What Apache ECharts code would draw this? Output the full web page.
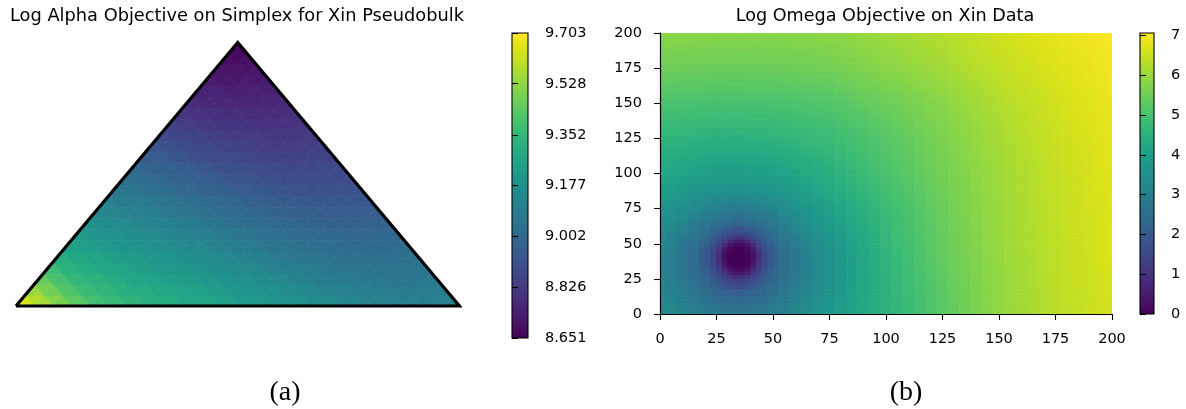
<!DOCTYPE html>
<html>
<head>
<meta charset="utf-8">
<script src="https://cdn.jsdelivr.net/npm/echarts@6/dist/echarts.min.js"></script>
<style>
  html, body { margin: 0; padding: 0; background: #fff; }
  #chart { width: 1186px; height: 409px; }
</style>
</head>
<body>
<div id="chart"></div>
<script>
// viridis colour stops (20 evenly spaced)
const VIRIDIS = ['#440154', '#481567', '#482677', '#453781', '#3f4788', '#39558c', '#32648e', '#2d718e',
  '#287d8e', '#238a8d', '#1f968b', '#20a386', '#29af7f', '#3cbc75', '#56c667', '#75d054',
  '#95d840', '#bade28', '#dde318', '#fde725'];

// ---- (a) log alpha objective on the simplex ----
// rows of sub-triangles from the base (row 0) to the apex; items alternate
// upward / downward triangles from left to right
const alphaRange = [8.651, 9.703];
const alphaTickLabels = ['8.651', '8.826', '9.002', '9.177', '9.352', '9.528', '9.703'];
const alphaSteps = 24;
const alphaRows = [
  [9.64, 9.58, 9.56, 9.51, 9.49, 9.44, 9.43, 9.39, 9.38, 9.36, 9.36, 9.33, 9.33, 9.31, 9.31, 9.30, 9.30, 9.28, 9.28, 9.26, 9.27, 9.25, 9.25, 9.23, 9.23, 9.21, 9.21, 9.19, 9.19, 9.18, 9.18, 9.16, 9.16, 9.14, 9.14, 9.13, 9.13, 9.11, 9.12, 9.11, 9.11, 9.10, 9.11, 9.10, 9.11, 9.11, 9.11],
  [9.54, 9.49, 9.47, 9.42, 9.41, 9.37, 9.36, 9.34, 9.34, 9.32, 9.31, 9.29, 9.30, 9.28, 9.28, 9.26, 9.26, 9.25, 9.25, 9.23, 9.23, 9.21, 9.21, 9.19, 9.19, 9.18, 9.18, 9.16, 9.16, 9.14, 9.14, 9.12, 9.12, 9.11, 9.11, 9.10, 9.10, 9.09, 9.09, 9.08, 9.09, 9.08, 9.09, 9.09, 9.09],
  [9.45, 9.40, 9.39, 9.35, 9.34, 9.32, 9.32, 9.30, 9.30, 9.27, 9.28, 9.26, 9.26, 9.24, 9.24, 9.23, 9.23, 9.21, 9.21, 9.19, 9.19, 9.17, 9.18, 9.16, 9.16, 9.14, 9.14, 9.12, 9.12, 9.10, 9.10, 9.09, 9.09, 9.08, 9.08, 9.07, 9.07, 9.06, 9.07, 9.06, 9.07, 9.07, 9.07],
  [9.37, 9.33, 9.32, 9.30, 9.30, 9.28, 9.28, 9.26, 9.26, 9.24, 9.24, 9.22, 9.22, 9.21, 9.21, 9.19, 9.19, 9.17, 9.17, 9.16, 9.16, 9.14, 9.14, 9.12, 9.12, 9.10, 9.10, 9.08, 9.09, 9.07, 9.07, 9.06, 9.06, 9.05, 9.06, 9.05, 9.05, 9.05, 9.05, 9.05, 9.06],
  [9.31, 9.28, 9.28, 9.26, 9.26, 9.24, 9.24, 9.22, 9.22, 9.20, 9.21, 9.19, 9.19, 9.17, 9.17, 9.15, 9.15, 9.14, 9.14, 9.12, 9.12, 9.10, 9.10, 9.08, 9.08, 9.06, 9.07, 9.05, 9.05, 9.04, 9.04, 9.03, 9.04, 9.03, 9.03, 9.03, 9.03, 9.03, 9.04],
  [9.26, 9.24, 9.24, 9.22, 9.22, 9.20, 9.20, 9.18, 9.19, 9.17, 9.17, 9.15, 9.15, 9.13, 9.14, 9.12, 9.12, 9.10, 9.10, 9.08, 9.08, 9.06, 9.06, 9.05, 9.05, 9.03, 9.03, 9.02, 9.02, 9.01, 9.02, 9.01, 9.01, 9.01, 9.01, 9.01, 9.02],
  [9.22, 9.20, 9.20, 9.18, 9.18, 9.17, 9.17, 9.15, 9.15, 9.13, 9.13, 9.12, 9.12, 9.10, 9.10, 9.08, 9.08, 9.06, 9.06, 9.04, 9.04, 9.03, 9.03, 9.01, 9.01, 9.00, 9.00, 8.99, 9.00, 8.99, 8.99, 8.99, 9.00, 8.99, 9.00],
  [9.18, 9.16, 9.16, 9.15, 9.15, 9.13, 9.13, 9.11, 9.12, 9.10, 9.10, 9.08, 9.08, 9.06, 9.06, 9.04, 9.04, 9.02, 9.02, 9.01, 9.01, 8.99, 9.00, 8.98, 8.98, 8.97, 8.98, 8.97, 8.97, 8.97, 8.98, 8.97, 8.98],
  [9.14, 9.13, 9.13, 9.11, 9.11, 9.10, 9.10, 9.08, 9.08, 9.06, 9.06, 9.04, 9.04, 9.02, 9.02, 9.00, 9.00, 8.99, 8.99, 8.97, 8.98, 8.96, 8.97, 8.96, 8.96, 8.95, 8.95, 8.95, 8.96, 8.95, 8.96],
  [9.11, 9.09, 9.09, 9.08, 9.08, 9.06, 9.06, 9.04, 9.04, 9.02, 9.02, 9.00, 9.00, 8.99, 8.99, 8.97, 8.97, 8.96, 8.96, 8.94, 8.95, 8.94, 8.94, 8.93, 8.94, 8.93, 8.94, 8.93, 8.94],
  [9.07, 9.06, 9.06, 9.04, 9.04, 9.02, 9.02, 9.00, 9.00, 8.98, 8.98, 8.97, 8.97, 8.95, 8.95, 8.94, 8.94, 8.92, 8.93, 8.92, 8.92, 8.91, 8.92, 8.91, 8.92, 8.91, 8.92],
  [9.04, 9.02, 9.02, 9.00, 9.00, 8.98, 8.98, 8.97, 8.97, 8.95, 8.95, 8.93, 8.93, 8.92, 8.92, 8.90, 8.91, 8.90, 8.90, 8.89, 8.90, 8.89, 8.90, 8.89, 8.90],
  [9.00, 8.98, 8.98, 8.97, 8.97, 8.95, 8.95, 8.93, 8.93, 8.91, 8.91, 8.90, 8.90, 8.89, 8.89, 8.88, 8.88, 8.87, 8.88, 8.87, 8.88, 8.88, 8.88],
  [8.96, 8.95, 8.95, 8.93, 8.93, 8.91, 8.91, 8.89, 8.89, 8.88, 8.88, 8.87, 8.87, 8.86, 8.86, 8.85, 8.86, 8.85, 8.86, 8.86, 8.86],
  [8.93, 8.91, 8.91, 8.89, 8.89, 8.87, 8.88, 8.86, 8.86, 8.85, 8.85, 8.84, 8.84, 8.83, 8.84, 8.83, 8.84, 8.84, 8.85],
  [8.89, 8.87, 8.87, 8.85, 8.86, 8.84, 8.84, 8.83, 8.83, 8.82, 8.83, 8.82, 8.82, 8.82, 8.82, 8.82, 8.83],
  [8.85, 8.83, 8.84, 8.82, 8.82, 8.81, 8.81, 8.80, 8.81, 8.80, 8.80, 8.80, 8.80, 8.80, 8.81],
  [8.82, 8.80, 8.80, 8.79, 8.79, 8.78, 8.79, 8.78, 8.78, 8.78, 8.78, 8.78, 8.79],
  [8.78, 8.77, 8.77, 8.76, 8.77, 8.76, 8.76, 8.76, 8.77, 8.76, 8.77],
  [8.75, 8.75, 8.75, 8.74, 8.74, 8.74, 8.75, 8.74, 8.75],
  [8.73, 8.72, 8.72, 8.72, 8.73, 8.72, 8.73],
  [8.71, 8.70, 8.71, 8.70, 8.71],
  [8.69, 8.68, 8.69],
  [8.67]
];

// ---- (b) log omega objective ----
const omegaRange = [0, 7.06];
const omegaBarTicks = [0, 1, 2, 3, 4, 5, 6, 7];
const omegaAxisTicks = [0, 25, 50, 75, 100, 125, 150, 175, 200];
const omegaCell = 5;
const omegaX = [0, 5, 10, 15, 20, 25, 30, 35, 40, 45, 50, 55, 60, 65, 70, 75, 80, 85, 90, 95, 100,
  105, 110, 115, 120, 125, 130, 135, 140, 145, 150, 155, 160, 165, 170, 175, 180, 185, 190, 195, 200];
const omegaY = [200, 195, 190, 185, 180, 175, 170, 165, 160, 155, 150, 145, 140, 135, 130, 125, 120, 115, 110, 105, 100,
  95, 90, 85, 80, 75, 70, 65, 60, 55, 50, 45, 40, 35, 30, 25, 20, 15, 10, 5, 0];
const omegaGrid = [
  [5.85, 5.84, 5.83, 5.82, 5.81, 5.80, 5.80, 5.79, 5.79, 5.79, 5.80, 5.80, 5.82, 5.83, 5.85, 5.85, 5.89, 5.93, 5.98, 6.02, 6.06, 6.10, 6.15, 6.20, 6.25, 6.28, 6.34, 6.39, 6.45, 6.51, 6.55, 6.60, 6.65, 6.70, 6.76, 6.81, 6.86, 6.90, 6.95, 6.99, 7.02],
  [5.78, 5.77, 5.76, 5.75, 5.74, 5.73, 5.73, 5.72, 5.72, 5.72, 5.73, 5.73, 5.75, 5.76, 5.78, 5.79, 5.83, 5.87, 5.92, 5.96, 6.01, 6.05, 6.10, 6.15, 6.20, 6.24, 6.30, 6.35, 6.41, 6.47, 6.52, 6.57, 6.62, 6.67, 6.73, 6.78, 6.83, 6.87, 6.92, 6.96, 7.00],
  [5.71, 5.70, 5.69, 5.68, 5.67, 5.66, 5.66, 5.66, 5.66, 5.66, 5.67, 5.67, 5.69, 5.70, 5.72, 5.73, 5.78, 5.82, 5.87, 5.91, 5.96, 6.01, 6.06, 6.11, 6.16, 6.20, 6.26, 6.32, 6.38, 6.44, 6.49, 6.55, 6.60, 6.65, 6.71, 6.76, 6.81, 6.85, 6.90, 6.94, 6.98],
  [5.64, 5.63, 5.62, 5.61, 5.60, 5.59, 5.59, 5.59, 5.59, 5.59, 5.60, 5.60, 5.62, 5.63, 5.65, 5.67, 5.72, 5.76, 5.81, 5.85, 5.91, 5.96, 6.01, 6.06, 6.11, 6.16, 6.22, 6.28, 6.34, 6.40, 6.46, 6.52, 6.57, 6.62, 6.68, 6.73, 6.78, 6.82, 6.87, 6.91, 6.96],
  [5.57, 5.56, 5.55, 5.54, 5.53, 5.52, 5.52, 5.52, 5.52, 5.52, 5.53, 5.54, 5.56, 5.57, 5.59, 5.61, 5.66, 5.71, 5.76, 5.80, 5.86, 5.91, 5.97, 6.02, 6.07, 6.12, 6.19, 6.25, 6.31, 6.37, 6.43, 6.49, 6.55, 6.60, 6.66, 6.71, 6.76, 6.80, 6.85, 6.89, 6.94],
  [5.50, 5.49, 5.48, 5.47, 5.46, 5.45, 5.45, 5.45, 5.45, 5.45, 5.46, 5.47, 5.49, 5.51, 5.53, 5.55, 5.60, 5.65, 5.70, 5.75, 5.81, 5.86, 5.92, 5.97, 6.03, 6.08, 6.15, 6.21, 6.28, 6.34, 6.40, 6.46, 6.52, 6.57, 6.63, 6.68, 6.73, 6.78, 6.83, 6.87, 6.92],
  [5.41, 5.40, 5.39, 5.38, 5.37, 5.36, 5.36, 5.36, 5.37, 5.37, 5.38, 5.39, 5.41, 5.43, 5.45, 5.47, 5.53, 5.58, 5.63, 5.68, 5.74, 5.79, 5.86, 5.91, 5.97, 6.03, 6.10, 6.16, 6.24, 6.30, 6.37, 6.43, 6.49, 6.54, 6.60, 6.66, 6.71, 6.76, 6.81, 6.86, 6.91],
  [5.32, 5.31, 5.30, 5.29, 5.28, 5.27, 5.27, 5.27, 5.28, 5.28, 5.29, 5.30, 5.33, 5.35, 5.37, 5.39, 5.45, 5.50, 5.56, 5.61, 5.67, 5.72, 5.79, 5.85, 5.91, 5.97, 6.04, 6.11, 6.19, 6.26, 6.33, 6.39, 6.45, 6.51, 6.57, 6.63, 6.69, 6.74, 6.79, 6.84, 6.89],
  [5.23, 5.22, 5.21, 5.20, 5.19, 5.18, 5.19, 5.19, 5.20, 5.20, 5.21, 5.22, 5.25, 5.27, 5.29, 5.31, 5.37, 5.43, 5.49, 5.54, 5.60, 5.66, 5.73, 5.79, 5.85, 5.92, 5.99, 6.07, 6.15, 6.22, 6.29, 6.36, 6.42, 6.48, 6.55, 6.61, 6.67, 6.72, 6.77, 6.83, 6.88],
  [5.14, 5.13, 5.12, 5.11, 5.10, 5.09, 5.10, 5.10, 5.11, 5.11, 5.12, 5.13, 5.16, 5.18, 5.21, 5.23, 5.29, 5.35, 5.41, 5.46, 5.53, 5.59, 5.66, 5.72, 5.79, 5.86, 5.94, 6.02, 6.10, 6.18, 6.25, 6.32, 6.39, 6.45, 6.52, 6.58, 6.64, 6.69, 6.75, 6.81, 6.87],
  [5.05, 5.04, 5.03, 5.02, 5.01, 5.00, 5.01, 5.01, 5.02, 5.02, 5.03, 5.05, 5.08, 5.10, 5.13, 5.16, 5.22, 5.28, 5.35, 5.40, 5.47, 5.53, 5.61, 5.67, 5.75, 5.82, 5.90, 5.98, 6.07, 6.15, 6.23, 6.30, 6.37, 6.43, 6.50, 6.56, 6.62, 6.68, 6.74, 6.80, 6.86],
  [4.96, 4.95, 4.94, 4.93, 4.92, 4.90, 4.91, 4.91, 4.92, 4.92, 4.94, 4.96, 4.99, 5.02, 5.05, 5.08, 5.15, 5.21, 5.28, 5.34, 5.41, 5.47, 5.55, 5.62, 5.70, 5.77, 5.86, 5.94, 6.03, 6.12, 6.20, 6.27, 6.34, 6.40, 6.47, 6.54, 6.60, 6.66, 6.72, 6.78, 6.84],
  [4.88, 4.87, 4.85, 4.84, 4.82, 4.80, 4.81, 4.82, 4.83, 4.83, 4.85, 4.87, 4.91, 4.94, 4.98, 5.01, 5.08, 5.15, 5.22, 5.29, 5.36, 5.43, 5.51, 5.59, 5.67, 5.74, 5.83, 5.92, 6.01, 6.10, 6.18, 6.25, 6.32, 6.39, 6.46, 6.53, 6.59, 6.65, 6.71, 6.77, 6.83],
  [4.80, 4.78, 4.76, 4.74, 4.72, 4.70, 4.71, 4.72, 4.73, 4.73, 4.76, 4.78, 4.82, 4.86, 4.90, 4.94, 5.01, 5.08, 5.16, 5.23, 5.31, 5.38, 5.47, 5.55, 5.63, 5.71, 5.80, 5.89, 5.98, 6.07, 6.15, 6.23, 6.30, 6.37, 6.44, 6.51, 6.57, 6.63, 6.69, 6.75, 6.81],
  [4.72, 4.69, 4.67, 4.65, 4.63, 4.60, 4.61, 4.62, 4.63, 4.64, 4.67, 4.69, 4.74, 4.78, 4.83, 4.87, 4.95, 5.02, 5.10, 5.18, 5.26, 5.34, 5.43, 5.51, 5.60, 5.68, 5.78, 5.87, 5.96, 6.05, 6.13, 6.21, 6.29, 6.36, 6.43, 6.50, 6.56, 6.62, 6.68, 6.74, 6.80],
  [4.63, 4.60, 4.58, 4.55, 4.53, 4.50, 4.51, 4.52, 4.53, 4.54, 4.57, 4.60, 4.65, 4.70, 4.75, 4.80, 4.88, 4.96, 5.04, 5.12, 5.21, 5.29, 5.38, 5.47, 5.56, 5.65, 5.75, 5.84, 5.94, 6.03, 6.11, 6.19, 6.27, 6.34, 6.41, 6.48, 6.54, 6.60, 6.66, 6.72, 6.78],
  [4.55, 4.51, 4.49, 4.45, 4.43, 4.39, 4.40, 4.41, 4.42, 4.43, 4.47, 4.50, 4.56, 4.62, 4.68, 4.73, 4.82, 4.91, 5.00, 5.08, 5.18, 5.26, 5.36, 5.45, 5.54, 5.63, 5.73, 5.82, 5.92, 6.02, 6.10, 6.18, 6.26, 6.33, 6.40, 6.47, 6.53, 6.59, 6.65, 6.71, 6.77],
  [4.46, 4.42, 4.39, 4.35, 4.32, 4.28, 4.29, 4.30, 4.31, 4.32, 4.36, 4.40, 4.47, 4.53, 4.60, 4.66, 4.76, 4.85, 4.95, 5.04, 5.14, 5.23, 5.33, 5.42, 5.52, 5.61, 5.71, 5.80, 5.90, 6.00, 6.08, 6.16, 6.24, 6.31, 6.39, 6.46, 6.52, 6.58, 6.64, 6.70, 6.76],
  [4.38, 4.33, 4.30, 4.25, 4.21, 4.16, 4.17, 4.17, 4.19, 4.20, 4.25, 4.30, 4.38, 4.45, 4.52, 4.59, 4.70, 4.80, 4.91, 5.01, 5.11, 5.21, 5.31, 5.40, 5.50, 5.59, 5.69, 5.79, 5.89, 5.99, 6.07, 6.15, 6.23, 6.30, 6.38, 6.45, 6.51, 6.57, 6.64, 6.70, 6.76],
  [4.29, 4.24, 4.20, 4.15, 4.09, 4.03, 4.04, 4.04, 4.06, 4.07, 4.13, 4.19, 4.28, 4.36, 4.44, 4.52, 4.63, 4.74, 4.86, 4.97, 5.08, 5.18, 5.28, 5.37, 5.47, 5.57, 5.67, 5.77, 5.87, 5.97, 6.05, 6.13, 6.21, 6.28, 6.36, 6.43, 6.50, 6.56, 6.63, 6.69, 6.76],
  [4.20, 4.15, 4.10, 4.04, 3.99, 3.94, 3.94, 3.94, 3.96, 3.97, 4.03, 4.08, 4.17, 4.26, 4.35, 4.44, 4.56, 4.68, 4.81, 4.92, 5.04, 5.15, 5.25, 5.35, 5.45, 5.55, 5.65, 5.75, 5.86, 5.96, 6.04, 6.12, 6.20, 6.27, 6.35, 6.42, 6.49, 6.55, 6.62, 6.68, 6.75],
  [4.11, 4.05, 3.99, 3.93, 3.89, 3.84, 3.84, 3.83, 3.85, 3.87, 3.92, 3.97, 4.06, 4.15, 4.26, 4.36, 4.49, 4.62, 4.75, 4.87, 4.99, 5.11, 5.22, 5.32, 5.43, 5.53, 5.63, 5.73, 5.84, 5.94, 6.03, 6.11, 6.19, 6.26, 6.34, 6.41, 6.48, 6.54, 6.61, 6.67, 6.74],
  [4.03, 3.95, 3.87, 3.78, 3.71, 3.64, 3.63, 3.62, 3.65, 3.68, 3.76, 3.83, 3.95, 4.06, 4.18, 4.29, 4.42, 4.55, 4.69, 4.82, 4.94, 5.07, 5.18, 5.29, 5.40, 5.51, 5.62, 5.72, 5.83, 5.93, 6.02, 6.11, 6.19, 6.26, 6.34, 6.41, 6.48, 6.54, 6.61, 6.67, 6.73],
  [3.95, 3.85, 3.74, 3.62, 3.53, 3.43, 3.42, 3.40, 3.45, 3.49, 3.59, 3.68, 3.83, 3.97, 4.10, 4.22, 4.35, 4.47, 4.62, 4.76, 4.89, 5.02, 5.14, 5.25, 5.37, 5.49, 5.60, 5.70, 5.81, 5.91, 6.01, 6.10, 6.18, 6.25, 6.33, 6.40, 6.47, 6.53, 6.60, 6.66, 6.72],
  [3.84, 3.73, 3.61, 3.48, 3.36, 3.24, 3.20, 3.15, 3.23, 3.30, 3.42, 3.53, 3.69, 3.85, 3.98, 4.11, 4.26, 4.40, 4.55, 4.70, 4.84, 4.98, 5.10, 5.22, 5.35, 5.47, 5.58, 5.69, 5.80, 5.90, 6.00, 6.09, 6.17, 6.24, 6.32, 6.39, 6.46, 6.52, 6.59, 6.65, 6.71],
  [3.72, 3.60, 3.47, 3.33, 3.19, 3.05, 2.98, 2.90, 3.00, 3.10, 3.24, 3.38, 3.55, 3.72, 3.86, 4.00, 4.16, 4.32, 4.48, 4.64, 4.79, 4.93, 5.06, 5.19, 5.32, 5.45, 5.56, 5.67, 5.78, 5.89, 5.99, 6.08, 6.16, 6.23, 6.31, 6.38, 6.45, 6.51, 6.58, 6.64, 6.70],
  [3.63, 3.49, 3.33, 3.17, 3.00, 2.83, 2.72, 2.60, 2.73, 2.85, 3.04, 3.23, 3.42, 3.61, 3.78, 3.94, 4.10, 4.26, 4.43, 4.60, 4.76, 4.91, 5.04, 5.17, 5.31, 5.44, 5.55, 5.66, 5.78, 5.89, 5.99, 6.08, 6.16, 6.23, 6.31, 6.38, 6.45, 6.51, 6.58, 6.64, 6.70],
  [3.53, 3.37, 3.19, 3.00, 2.80, 2.60, 2.45, 2.30, 2.45, 2.60, 2.84, 3.08, 3.29, 3.50, 3.69, 3.87, 4.04, 4.20, 4.38, 4.56, 4.72, 4.88, 5.02, 5.15, 5.29, 5.42, 5.54, 5.65, 5.77, 5.88, 5.98, 6.07, 6.15, 6.22, 6.30, 6.37, 6.44, 6.50, 6.57, 6.63, 6.70],
  [3.43, 3.26, 3.06, 2.84, 2.64, 2.28, 2.03, 1.80, 2.03, 2.30, 2.70, 2.93, 3.17, 3.40, 3.60, 3.79, 3.97, 4.14, 4.33, 4.52, 4.69, 4.86, 5.00, 5.13, 5.27, 5.41, 5.53, 5.64, 5.76, 5.88, 5.98, 6.07, 6.15, 6.22, 6.30, 6.37, 6.44, 6.50, 6.57, 6.63, 6.70],
  [3.33, 3.15, 2.92, 2.68, 2.48, 1.95, 1.60, 1.18, 1.60, 2.00, 2.55, 2.78, 3.04, 3.30, 3.50, 3.70, 3.89, 4.08, 4.28, 4.48, 4.66, 4.83, 4.97, 5.11, 5.25, 5.39, 5.51, 5.63, 5.75, 5.87, 5.97, 6.06, 6.14, 6.21, 6.29, 6.36, 6.43, 6.49, 6.56, 6.62, 6.69],
  [3.27, 3.09, 2.83, 2.57, 2.29, 1.66, 1.15, 0.60, 1.15, 1.71, 2.36, 2.66, 2.94, 3.21, 3.43, 3.64, 3.84, 4.04, 4.25, 4.45, 4.63, 4.81, 4.95, 5.10, 5.24, 5.38, 5.50, 5.62, 5.74, 5.86, 5.96, 6.06, 6.14, 6.21, 6.29, 6.36, 6.42, 6.48, 6.55, 6.62, 6.69],
  [3.20, 3.02, 2.74, 2.45, 2.14, 1.36, 0.70, 0.03, 0.70, 1.41, 2.21, 2.53, 2.83, 3.12, 3.35, 3.57, 3.79, 4.00, 4.21, 4.42, 4.60, 4.78, 4.93, 5.08, 5.23, 5.37, 5.49, 5.61, 5.73, 5.85, 5.95, 6.05, 6.13, 6.20, 6.28, 6.35, 6.41, 6.47, 6.54, 6.61, 6.68],
  [3.18, 3.01, 2.73, 2.44, 2.03, 1.33, 0.68, 0.03, 0.69, 1.38, 2.10, 2.50, 2.80, 3.09, 3.32, 3.54, 3.76, 3.98, 4.19, 4.41, 4.59, 4.76, 4.91, 5.06, 5.21, 5.35, 5.48, 5.60, 5.72, 5.84, 5.94, 6.04, 6.12, 6.19, 6.27, 6.35, 6.41, 6.47, 6.54, 6.60, 6.67],
  [3.15, 3.00, 2.71, 2.42, 2.08, 1.30, 0.66, 0.02, 0.68, 1.35, 2.15, 2.47, 2.77, 3.06, 3.29, 3.51, 3.73, 3.95, 4.17, 4.39, 4.57, 4.74, 4.89, 5.04, 5.19, 5.33, 5.46, 5.58, 5.70, 5.82, 5.93, 6.03, 6.11, 6.18, 6.26, 6.34, 6.40, 6.46, 6.53, 6.59, 6.66],
  [3.18, 3.00, 2.75, 2.49, 2.17, 1.55, 1.05, 0.54, 1.07, 1.60, 2.24, 2.54, 2.82, 3.09, 3.32, 3.55, 3.76, 3.97, 4.17, 4.38, 4.55, 4.72, 4.87, 5.02, 5.17, 5.32, 5.45, 5.57, 5.69, 5.81, 5.92, 6.02, 6.10, 6.18, 6.26, 6.34, 6.40, 6.46, 6.53, 6.59, 6.66],
  [3.20, 3.00, 2.78, 2.55, 2.30, 1.80, 1.43, 1.06, 1.46, 1.85, 2.37, 2.60, 2.86, 3.12, 3.35, 3.58, 3.78, 3.98, 4.17, 4.36, 4.53, 4.70, 4.85, 5.00, 5.15, 5.30, 5.43, 5.55, 5.68, 5.80, 5.91, 6.01, 6.09, 6.17, 6.25, 6.33, 6.39, 6.45, 6.52, 6.58, 6.65],
  [3.23, 3.05, 2.86, 2.65, 2.40, 2.10, 1.80, 1.62, 1.83, 2.15, 2.47, 2.69, 2.93, 3.17, 3.40, 3.62, 3.81, 4.00, 4.18, 4.36, 4.53, 4.69, 4.84, 4.99, 5.14, 5.29, 5.42, 5.54, 5.67, 5.80, 5.91, 6.01, 6.09, 6.17, 6.25, 6.33, 6.39, 6.45, 6.52, 6.58, 6.65],
  [3.25, 3.10, 2.93, 2.75, 2.50, 2.25, 2.17, 2.05, 2.20, 2.30, 2.54, 2.78, 3.00, 3.22, 3.44, 3.65, 3.84, 4.02, 4.19, 4.36, 4.52, 4.68, 4.83, 4.98, 5.13, 5.28, 5.41, 5.53, 5.66, 5.79, 5.90, 6.00, 6.08, 6.16, 6.24, 6.32, 6.38, 6.44, 6.51, 6.57, 6.64],
  [3.33, 3.18, 3.02, 2.85, 2.65, 2.45, 2.39, 2.30, 2.40, 2.48, 2.69, 2.89, 3.10, 3.30, 3.51, 3.70, 3.88, 4.04, 4.20, 4.36, 4.52, 4.67, 4.82, 4.97, 5.12, 5.27, 5.40, 5.53, 5.66, 5.79, 5.90, 6.00, 6.08, 6.16, 6.24, 6.32, 6.38, 6.44, 6.50, 6.56, 6.63],
  [3.40, 3.25, 3.10, 2.95, 2.80, 2.65, 2.60, 2.55, 2.60, 2.65, 2.83, 3.00, 3.19, 3.38, 3.57, 3.75, 3.91, 4.06, 4.21, 4.36, 4.51, 4.66, 4.81, 4.96, 5.11, 5.26, 5.39, 5.52, 5.65, 5.78, 5.89, 5.99, 6.07, 6.15, 6.23, 6.31, 6.37, 6.43, 6.49, 6.55, 6.61],
  [3.48, 3.33, 3.19, 3.05, 2.95, 2.78, 2.72, 2.68, 2.72, 2.78, 2.98, 3.11, 3.29, 3.46, 3.64, 3.80, 3.95, 4.08, 4.22, 4.36, 4.51, 4.65, 4.80, 4.95, 5.10, 5.25, 5.38, 5.52, 5.65, 5.78, 5.89, 5.99, 6.07, 6.15, 6.23, 6.31, 6.37, 6.43, 6.48, 6.54, 6.60]
];
// finer sampling around the minimum (x 20-50, y 20-60)
const omegaFineCell = 2.5;
const omegaFineX = [21.25, 23.75, 26.25, 28.75, 31.25, 33.75, 36.25, 38.75, 41.25, 43.75, 46.25, 48.75];
const omegaFineY = [58.75, 56.25, 53.75, 51.25, 48.75, 46.25, 43.75, 41.25, 38.75, 36.25, 33.75, 31.25, 28.75, 26.25, 23.75, 21.25];
const omegaFine = [
  [2.54, 2.38, 2.20, 2.01, 1.84, 1.75, 1.75, 1.84, 2.03, 2.23, 2.42, 2.60],
  [2.43, 2.24, 2.00, 1.75, 1.55, 1.44, 1.44, 1.55, 1.77, 2.03, 2.28, 2.50],
  [2.32, 2.07, 1.78, 1.47, 1.20, 1.02, 1.02, 1.20, 1.49, 1.80, 2.11, 2.38],
  [2.20, 1.90, 1.55, 1.16, 0.76, 0.51, 0.51, 0.76, 1.17, 1.57, 1.94, 2.26],
  [2.09, 1.74, 1.34, 0.84, 0.38, 0.18, 0.18, 0.38, 0.85, 1.36, 1.78, 2.15],
  [1.99, 1.62, 1.16, 0.56, 0.15, 0.06, 0.06, 0.15, 0.57, 1.18, 1.66, 2.06],
  [1.91, 1.52, 1.02, 0.38, 0.07, 0.03, 0.03, 0.07, 0.39, 1.04, 1.57, 1.99],
  [1.88, 1.46, 0.95, 0.28, 0.05, 0.02, 0.02, 0.05, 0.29, 0.97, 1.50, 1.94],
  [1.87, 1.45, 0.94, 0.27, 0.04, 0.01, 0.01, 0.04, 0.28, 0.96, 1.49, 1.93],
  [1.89, 1.50, 1.00, 0.36, 0.06, 0.02, 0.02, 0.06, 0.37, 1.02, 1.54, 1.95],
  [1.94, 1.57, 1.12, 0.53, 0.13, 0.05, 0.05, 0.13, 0.54, 1.14, 1.61, 2.00],
  [2.01, 1.67, 1.28, 0.79, 0.35, 0.16, 0.16, 0.35, 0.80, 1.30, 1.71, 2.07],
  [2.09, 1.79, 1.44, 1.07, 0.69, 0.46, 0.46, 0.69, 1.08, 1.46, 1.83, 2.15],
  [2.16, 1.91, 1.62, 1.32, 1.06, 0.89, 0.89, 1.06, 1.34, 1.65, 1.95, 2.22],
  [2.24, 2.05, 1.81, 1.56, 1.36, 1.25, 1.25, 1.36, 1.58, 1.84, 2.09, 2.30],
  [2.32, 2.16, 1.98, 1.79, 1.62, 1.53, 1.53, 1.62, 1.81, 2.01, 2.20, 2.38]
];

// ---- build series data ----
const simplexData = [];
alphaRows.forEach((row, k) => row.forEach((v, q) => simplexData.push([k, q, v])));

function gridItems(xs, ys, rows) {
  const out = [];
  rows.forEach((row, i) => row.forEach((v, j) => out.push([xs[j], ys[i], v])));
  return out;
}
const omegaData = gridItems(omegaX, omegaY, omegaGrid);
const omegaFineData = gridItems(omegaFineX, omegaFineY, omegaFine);

// lattice node (p along the row, k row index) -> unit square coordinates
function simplexNode(p, k) {
  return [k / (2 * alphaSteps) + p / alphaSteps, k / alphaSteps];
}

function renderSimplexCell(params, api) {
  const k = api.value(0), q = api.value(1);
  let pts;
  if (q % 2 === 0) {
    const p = q / 2;
    pts = [simplexNode(p, k), simplexNode(p + 1, k), simplexNode(p, k + 1)];
  } else {
    const p = (q - 1) / 2;
    pts = [simplexNode(p + 1, k), simplexNode(p, k + 1), simplexNode(p + 1, k + 1)];
  }
  const c = api.visual('color');
  return {
    type: 'polygon',
    shape: { points: pts.map(pt => api.coord(pt)) },
    style: { fill: c, stroke: c, lineWidth: 0.7 }
  };
}

function cellRenderer(size) {
  return function (params, api) {
    const x = api.value(0), y = api.value(1);
    const a = api.coord([x - size / 2, y + size / 2]);
    const b = api.coord([x + size / 2, y - size / 2]);
    const c = api.visual('color');
    return {
      type: 'rect',
      shape: { x: a[0], y: a[1], width: b[0] - a[0], height: b[1] - a[1] },
      style: { fill: c, stroke: c, lineWidth: 0.8 }
    };
  };
}

function colorBarRenderer(lo, hi) {
  return function (params, api) {
    const a = api.coord([0, hi]);
    const b = api.coord([1, lo]);
    const stops = VIRIDIS.map((col, i) => ({ offset: i / (VIRIDIS.length - 1), color: col }));
    return {
      type: 'rect',
      shape: { x: a[0], y: a[1], width: b[0] - a[0], height: b[1] - a[1] },
      style: {
        fill: new echarts.graphic.LinearGradient(0, 1, 0, 0, stops),
        stroke: '#000', lineWidth: 1.1
      }
    };
  };
}

const FONT = '"DejaVu Sans", Verdana, sans-serif';
const labelStyle = { color: '#000', fontFamily: FONT, fontSize: 14.5 };
const tickStyle = { show: true, inside: false, length: 6, lineStyle: { color: '#000', width: 1.1 } };
const frameLine = { show: true, lineStyle: { color: '#000', width: 1.1 } };

const chart = echarts.init(document.getElementById('chart'), null, { renderer: 'canvas' });

chart.setOption({
  animation: false,
  backgroundColor: '#fff',
  grid: [
    { left: 16, top: 42.5, width: 443.5, height: 263.5 },   // simplex
    { left: 512, top: 33, width: 16, height: 305 },         // alpha colour bar
    { left: 660, top: 33, width: 452, height: 281 },        // omega map
    { left: 1140, top: 33, width: 14, height: 281 }         // omega colour bar
  ],
  xAxis: [
    { gridIndex: 0, type: 'value', min: 0, max: 1, show: false },
    { gridIndex: 1, type: 'value', min: 0, max: 1, show: false },
    {
      gridIndex: 2, type: 'value', min: 0, max: 200, interval: 25, z: 10,
      axisLine: frameLine, axisTick: tickStyle, splitLine: { show: false },
      axisLabel: Object.assign({ margin: 18, customValues: omegaAxisTicks }, labelStyle)
    },
    {
      gridIndex: 2, type: 'value', position: 'top', min: 0, max: 200, z: 10,
      axisLine: frameLine, axisTick: { show: false }, axisLabel: { show: false }, splitLine: { show: false }
    },
    { gridIndex: 3, type: 'value', min: 0, max: 1, show: false }
  ],
  yAxis: [
    { gridIndex: 0, type: 'value', min: 0, max: 1, show: false },
    {
      gridIndex: 1, type: 'value', position: 'right', min: alphaRange[0], max: alphaRange[1], z: 10,
      axisLine: { show: false }, splitLine: { show: false },
      axisTick: Object.assign({ customValues: alphaTickLabels.map(Number) }, tickStyle),
      axisLabel: Object.assign({
        margin: 17, customValues: alphaTickLabels.map(Number),
        formatter: v => v.toFixed(3)
      }, labelStyle)
    },
    {
      gridIndex: 2, type: 'value', min: 0, max: 200, interval: 25, z: 10,
      axisLine: frameLine, axisTick: tickStyle, splitLine: { show: false },
      axisLabel: Object.assign({ margin: 18, customValues: omegaAxisTicks }, labelStyle)
    },
    {
      gridIndex: 2, type: 'value', position: 'right', min: 0, max: 200, z: 10,
      axisLine: frameLine, axisTick: { show: false }, axisLabel: { show: false }, splitLine: { show: false }
    },
    {
      gridIndex: 3, type: 'value', position: 'right', min: omegaRange[0], max: omegaRange[1], z: 10,
      axisLine: { show: false }, splitLine: { show: false },
      axisTick: Object.assign({ customValues: omegaBarTicks }, tickStyle),
      axisLabel: Object.assign({ margin: 17, customValues: omegaBarTicks }, labelStyle)
    }
  ],
  visualMap: [
    {
      type: 'continuous', show: false, seriesIndex: 0, dimension: 2,
      min: alphaRange[0], max: alphaRange[1], inRange: { color: VIRIDIS }
    },
    {
      type: 'continuous', show: false, seriesIndex: [3, 4], dimension: 2,
      min: omegaRange[0], max: omegaRange[1], inRange: { color: VIRIDIS }
    }
  ],
  series: [
    {
      type: 'custom', name: 'alpha', xAxisIndex: 0, yAxisIndex: 0,
      renderItem: renderSimplexCell, data: simplexData, z: 2, silent: true
    },
    {
      type: 'line', name: 'simplex edge', xAxisIndex: 0, yAxisIndex: 0,
      data: [[0, 0], [1, 0], [0.5, 1], [0, 0]], symbol: 'none', clip: false, z: 5, silent: true,
      lineStyle: { color: '#000', width: 3.2, join: 'miter', cap: 'butt' }
    },
    {
      type: 'custom', name: 'alpha bar', xAxisIndex: 1, yAxisIndex: 1,
      renderItem: colorBarRenderer(alphaRange[0], alphaRange[1]), data: [[0]], silent: true
    },
    {
      type: 'custom', name: 'omega', xAxisIndex: 2, yAxisIndex: 2, clip: true,
      renderItem: cellRenderer(omegaCell), data: omegaData, z: 2, silent: true
    },
    {
      type: 'custom', name: 'omega fine', xAxisIndex: 2, yAxisIndex: 2, clip: true,
      renderItem: cellRenderer(omegaFineCell), data: omegaFineData, z: 3, silent: true
    },
    {
      type: 'custom', name: 'omega bar', xAxisIndex: 4, yAxisIndex: 4,
      renderItem: colorBarRenderer(omegaRange[0], omegaRange[1]), data: [[0]], silent: true
    }
  ],
  graphic: [
    {
      type: 'text', x: 237, y: 16, silent: true,
      style: {
        text: 'Log Alpha Objective on Simplex for Xin Pseudobulk', fill: '#000',
        font: '17.8px ' + FONT, align: 'center', verticalAlign: 'middle',
        textAlign: 'center', textVerticalAlign: 'middle'
      }
    },
    {
      type: 'text', x: 885, y: 16, silent: true,
      style: {
        text: 'Log Omega Objective on Xin Data', fill: '#000',
        font: '17.6px ' + FONT, align: 'center', verticalAlign: 'middle',
        textAlign: 'center', textVerticalAlign: 'middle'
      }
    },
    {
      type: 'text', x: 285, y: 393, silent: true,
      style: {
        text: '(a)', fill: '#000', font: '28px "Liberation Serif", "DejaVu Serif", serif',
        align: 'center', verticalAlign: 'middle', textAlign: 'center', textVerticalAlign: 'middle'
      }
    },
    {
      type: 'text', x: 906, y: 393, silent: true,
      style: {
        text: '(b)', fill: '#000', font: '28px "Liberation Serif", "DejaVu Serif", serif',
        align: 'center', verticalAlign: 'middle', textAlign: 'center', textVerticalAlign: 'middle'
      }
    }
  ]
});
</script>
</body>
</html>
